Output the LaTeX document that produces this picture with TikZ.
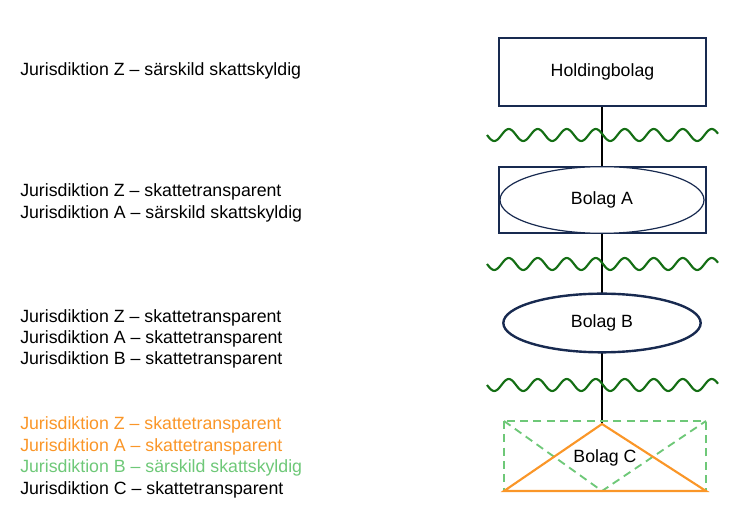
\documentclass[tikz,border=0pt]{standalone}
\usepackage{fontspec}
\setmainfont{Liberation Sans}
\usetikzlibrary{shapes.geometric}
\definecolor{navy}{RGB}{24,42,80}
\definecolor{org}{RGB}{250,150,40}
\definecolor{lgr}{RGB}{110,200,120}
\definecolor{dgr}{RGB}{20,110,20}
\begin{document}
\begin{tikzpicture}[x=0.75pt,y=-0.75pt,
  lbl/.style={anchor=west,font=\fontsize{13.3}{15}\selectfont,inner sep=0pt},
  box/.style={draw=navy,line width=1.4pt},
  txt/.style={font=\fontsize{13.3}{15}\selectfont},
  dsh/.style={draw=lgr,dash pattern=on 6pt off 4pt,line width=1.4pt},
  wave/.style={draw=dgr,line width=1.6pt}]
\useasboundingbox (0,0) rectangle (742,523);
% vertical connector
\coordinate (top) at (602,106);
\coordinate (bot) at (602,424);
\draw[black,line width=0.8pt] (top) -- (bot);
% waves
\foreach \yy in {135,264,385}
  \draw[wave,domain=0:231,samples=200,smooth] plot ({487+\x},{\yy+6*sin(12.4138*\x)});
% holding
\node[box,txt,fill=white,minimum width=155pt,minimum height=51pt] (h) at (602.5,72) {Holdingbolag};
% Bolag A
\node[box,fill=white,minimum width=155pt,minimum height=50pt] (ar) at (602.5,200) {};
\node[draw=navy,line width=0.9pt,ellipse,txt,fill=white,minimum width=153pt,minimum height=50pt,inner sep=0pt] (a) at (602,200) {Bolag A};
% Bolag B
\node[draw=navy,line width=1.8pt,ellipse,txt,fill=white,minimum width=148pt,minimum height=44pt,inner sep=0pt] (b) at (602,323) {Bolag B};
% Bolag C
\draw[dsh] (504,421) rectangle (706,491);
\draw[dsh] (504,421) -- (602,491) -- (706,421);
\draw[draw=org,line width=1.6pt] (602,424) -- (706,491) -- (504,491) -- cycle;
\node[txt] (c) at (605,458) {Bolag C};
% labels
\node[lbl] (t1) at (20,71) {Jurisdiktion Z – särskild skattskyldig};
\node[lbl] (t2) at (20,192) {Jurisdiktion Z – skattetransparent};
\node[lbl] (t3) at (20,214) {Jurisdiktion A – särskild skattskyldig};
\node[lbl] (t4) at (20,318) {Jurisdiktion Z – skattetransparent};
\node[lbl] (t5) at (20,339) {Jurisdiktion A – skattetransparent};
\node[lbl] (t6) at (20,360) {Jurisdiktion B – skattetransparent};
\node[lbl,text=org] (t7) at (20,425) {Jurisdiktion Z – skattetransparent};
\node[lbl,text=org] (t8) at (20,447) {Jurisdiktion A – skattetransparent};
\node[lbl,text=lgr] (t9) at (20,468) {Jurisdiktion B – särskild skattskyldig};
\node[lbl] (t10) at (20,490) {Jurisdiktion C – skattetransparent};
\end{tikzpicture}
\end{document}
